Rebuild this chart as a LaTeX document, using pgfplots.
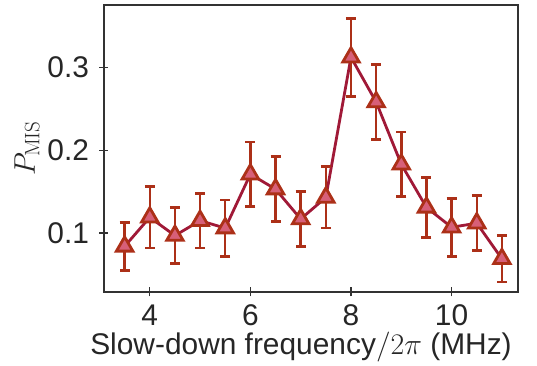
\RequirePackage{fix-cm}
\documentclass[border=0pt]{standalone}
\usepackage[no-math]{fontspec}
\setmainfont{Liberation Sans}
\usepackage{pgfplots}
\pgfplotsset{compat=1.18}
\definecolor{linecol}{RGB}{160,25,55}
\definecolor{edgecol}{RGB}{172,48,24}
\definecolor{fillcol}{RGB}{215,95,120}
\definecolor{axcol}{RGB}{50,50,50}
\begin{document}
\begin{tikzpicture}
\begin{axis}[
  scale only axis,
  width=414bp, height=287bp,
  xmin=3.09, xmax=11.32,
  ymin=0.029, ymax=0.375,
  xtick={4,6,8,10},
  ytick={0.1,0.2,0.3},
  yticklabels={0.1,0.2,0.3},
  xticklabels={4,6,8,10},
  tick align=center,
  major tick length=9bp,
  tick pos=left,
  axis line style={axcol, line width=1.3bp},
  tick style={axcol, line width=1.3bp},
  every tick label/.append style={font=\fontsize{30}{32}\selectfont, text=black!85},
  xticklabel style={anchor=base, yshift=-29bp},
  yticklabel style={anchor=east, xshift=-7bp},
  xlabel={Slow-down frequency$/2\pi$ (MHz)},
  ylabel={$P_{\mathrm{MIS}}$},
  every axis x label/.style={at={([xshift=-10bp,yshift=-63bp]axis description cs:0.5,0)}, anchor=base, font=\fontsize{30}{32}\selectfont, text=black!85},
  every axis y label/.style={at={([xshift=-69bp]axis description cs:0,0.5)}, rotate=90, anchor=base, font=\fontsize{30}{32}\selectfont, text=black!85},
]
\addplot[
  color=linecol, line width=2.8bp,
  mark=triangle*, mark size=9.5bp,
  mark options={draw=edgecol, fill=fillcol, line width=2.8bp, solid},
  error bars/.cd, y dir=both, y explicit,
  error bar style={edgecol, line width=2.4bp},
  error mark options={edgecol, line width=2.6bp, mark size=5bp, rotate=90},
] coordinates {
  (3.5,0.084)  +- (0,0.029)
  (4.0,0.119)  +- (0,0.037)
  (4.5,0.097)  +- (0,0.034)
  (5.0,0.115)  +- (0,0.033)
  (5.5,0.106)  +- (0,0.034)
  (6.0,0.171)  +- (0,0.039)
  (6.5,0.153)  +- (0,0.039)
  (7.0,0.117)  +- (0,0.033)
  (7.5,0.143)  +- (0,0.037)
  (8.0,0.312)  +- (0,0.047)
  (8.5,0.258)  +- (0,0.045)
  (9.0,0.183)  +- (0,0.039)
  (9.5,0.131)  +- (0,0.036)
  (10.0,0.107) +- (0,0.035)
  (10.5,0.112) +- (0,0.033)
  (11.0,0.069) +- (0,0.028)
};
\end{axis}
\path (-104bp,-72bp) rectangle (433bp,292bp);
\end{tikzpicture}
\end{document}
